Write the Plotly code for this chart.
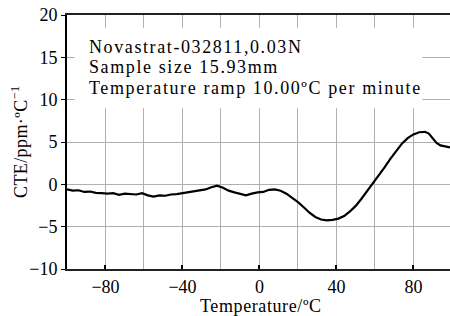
import plotly.graph_objects as go

temperature = [-100, -97, -94, -91, -88, -85, -82, -79, -76, -73, -70, -67, -64, -61, -58, -55, -52, -49, -46, -43,
               -40, -37, -34, -31, -28, -25, -22, -19, -16, -13, -10, -7, -4, -1, 2, 5, 8, 11, 14, 17,
               20, 23, 26, 29, 32, 35, 38, 41, 44, 47, 50, 53, 56, 59, 62, 65, 68, 71, 74, 77,
               80, 83, 86, 88, 90, 92, 94, 96, 98, 99]
cte = [-0.6, -0.75, -0.7, -0.9, -0.85, -1.0, -1.05, -1.1, -1.05, -1.25, -1.1, -1.15, -1.2, -1.05, -1.3, -1.45, -1.3, -1.35, -1.2, -1.15,
       -1.05, -0.95, -0.8, -0.7, -0.6, -0.35, -0.15, -0.4, -0.75, -0.95, -1.15, -1.3, -1.1, -0.95, -0.9, -0.65, -0.6, -0.75, -1.1, -1.55,
       -2.1, -2.7, -3.35, -3.85, -4.15, -4.25, -4.2, -4.05, -3.75, -3.2, -2.55, -1.7, -0.8, 0.1, 1.0, 2.0, 3.0, 3.95, 4.8, 5.45,
       5.9, 6.15, 6.2, 6.0, 5.5, 4.9, 4.6, 4.5, 4.4, 4.35]

x_ticks = [-80, -40, 0, 40, 80]
y_ticks = [-10, -5, 0, 5, 10, 15, 20]
note_lines = ["Novastrat-032811,0.03N", "Sample size 15.93mm", "Temperature ramp 10.00ºC per minute"]
note_y = [16.25, 13.8, 11.4]
x_title = "Temperature/ºC"
y_title = "CTE/ppm·ºC<sup>−1</sup>"

FONT = "Liberation Serif, Times New Roman, serif"
GRID = "#b0b0b0"

fig = go.Figure()
fig.add_trace(go.Scatter(x=temperature, y=cte, mode="lines",
                         line=dict(color="black", width=2.2), showlegend=False))

fig.update_layout(
    width=450, height=316,
    margin=dict(l=67, r=0, t=15, b=47, autoexpand=False),
    paper_bgcolor="white", plot_bgcolor="white",
    font=dict(family=FONT, size=17, color="black"),
    xaxis=dict(range=[-100, 99], tickvals=x_ticks, automargin=False,
               ticks="inside", ticklen=4, tickcolor="black", tickwidth=1.5,
               showgrid=True, gridcolor=GRID, gridwidth=1.3,
               minor=dict(dtick=20, tick0=0, showgrid=True, gridcolor=GRID, gridwidth=1.3, ticks=""),
               showline=True, linecolor="#222", linewidth=2, mirror=True,
               zeroline=False, tickfont=dict(size=18)),
    yaxis=dict(range=[-10, 20], tickvals=y_ticks, automargin=False,
               ticks="outside", ticklen=4, tickcolor="black", tickwidth=1.3,
               showgrid=True, gridcolor=GRID, gridwidth=1.3,
               showline=True, linecolor="black", linewidth=2, mirror=False,
               zeroline=False, tickfont=dict(size=18)),
)

# axis titles
fig.add_annotation(xref="paper", yref="paper", x=0.5, y=0, yanchor="middle", xanchor="center",
                   yshift=-37, xshift=2, showarrow=False,
                   text=f'<span style="letter-spacing:0.6px">{x_title}</span>',
                   font=dict(family=FONT, size=18))
fig.add_annotation(xref="paper", yref="paper", x=0, y=0.5, xanchor="center", yanchor="middle",
                   xshift=-48, yshift=0, textangle=-90, showarrow=False,
                   text=f'<span style="letter-spacing:0.4px">{y_title}</span>',
                   font=dict(family=FONT, size=18))

# white box behind the note text
fig.add_shape(type="rect", xref="x", yref="y", x0=-96, x1=84.7, y0=9.0, y1=18.5,
              fillcolor="white", line=dict(width=0), layer="above")

for line, yv in zip(note_lines, note_y):
    fig.add_annotation(xref="x", yref="y", x=-89.5, y=yv, xanchor="left", yanchor="middle",
                       text=f'<span style="letter-spacing:1.6px">{line}</span>', showarrow=False,
                       font=dict(family=FONT, size=18, color="black"))

fig.write_html("out.html", config={"displayModeBar": False},
               post_script="document.body.style.margin='0';")
